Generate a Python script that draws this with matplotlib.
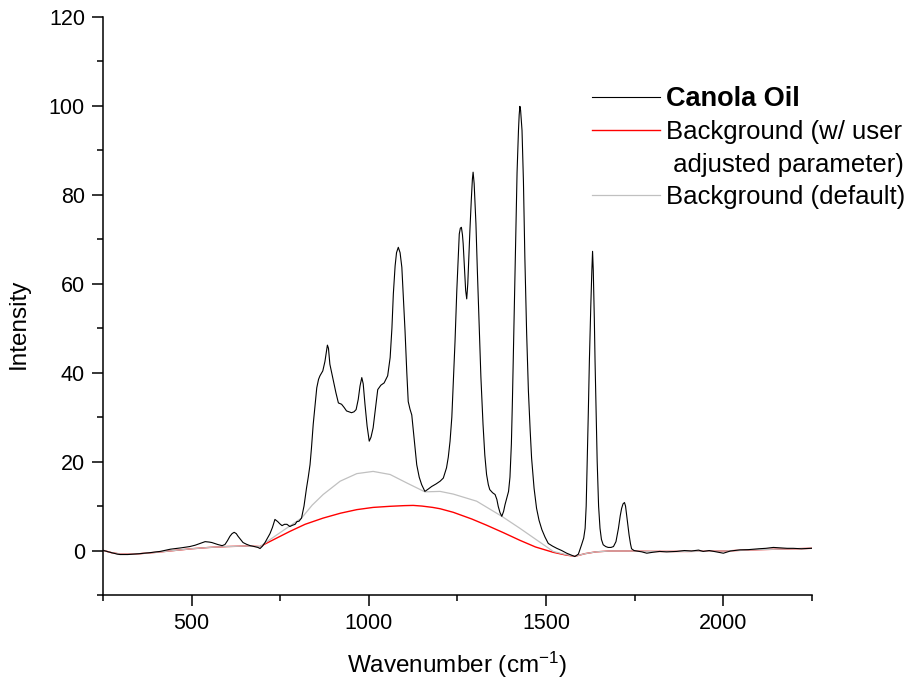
import matplotlib
matplotlib.use("Agg")
import matplotlib.pyplot as plt
from matplotlib.lines import Line2D
from matplotlib.ticker import MultipleLocator

plt.rcParams["font.family"] = ["Liberation Sans", "DejaVu Sans"]
plt.rcParams["mathtext.fontset"] = "custom"
plt.rcParams["mathtext.rm"] = "Liberation Sans"
plt.rcParams["mathtext.it"] = "Liberation Sans:italic"

# Canola oil Raman spectrum
wavenumber = [
    252, 261, 275, 290, 298, 320, 354, 380, 411, 440, 470, 495, 510, 524, 538,
    550, 557, 574, 586, 594, 601, 608, 614, 620, 626, 631, 638, 645, 655, 665,
    677, 687, 693, 700, 707, 714, 721, 728, 735, 743, 749, 755, 762, 769, 777,
    785, 792, 797, 803, 810, 817, 824, 829, 834, 838, 843, 848, 853, 858, 862,
    870, 876, 883, 886, 890, 895, 900, 907, 914, 923, 930, 937, 944, 951, 958,
    964, 970, 975, 980, 984, 989, 995, 1001, 1006, 1012, 1018, 1025, 1034, 1043,
    1053, 1060, 1065, 1069, 1074, 1078, 1083, 1088, 1093, 1098, 1102, 1107, 1111,
    1116, 1121, 1128, 1135, 1142, 1149, 1158, 1167, 1177, 1190, 1201, 1210, 1219,
    1224, 1229, 1234, 1238, 1243, 1248, 1252, 1255, 1258, 1261, 1264, 1266, 1270,
    1273, 1276, 1279, 1282, 1285, 1289, 1292, 1294, 1297, 1300, 1302, 1306, 1311,
    1316, 1322, 1327, 1332, 1337, 1341, 1349, 1356, 1361, 1365, 1370, 1375, 1380,
    1384, 1389, 1394, 1398, 1402, 1405, 1408, 1411, 1415, 1418, 1422, 1424, 1426,
    1428, 1432, 1436, 1440, 1445, 1450, 1455, 1459, 1466, 1473, 1480, 1488, 1497,
    1506, 1518, 1530, 1544, 1558, 1570, 1581, 1591, 1600, 1606, 1610, 1613, 1616,
    1619, 1622, 1626, 1629, 1631, 1633, 1636, 1638, 1641, 1644, 1648, 1652, 1656,
    1661, 1668, 1675, 1683, 1690, 1697, 1704, 1709, 1713, 1717, 1721, 1724, 1727,
    1731, 1734, 1738, 1741, 1748, 1755, 1770, 1784, 1800, 1820, 1840, 1868, 1890,
    1910, 1930, 1943, 1960, 1980, 2000, 2020, 2047, 2070, 2100, 2120, 2141, 2160,
    2180, 2197, 2220, 2249,
]
intensity = [
    0.0, -0.2, -0.5, -0.8, -0.9, -0.9, -0.7, -0.5, -0.2, 0.3, 0.6, 0.9, 1.2, 1.6, 2.0,
    1.9, 1.8, 1.35, 1.1, 1.35, 2.2, 3.2, 3.8, 4.1, 3.8, 3.2, 2.5, 1.8, 1.4, 1.1,
    0.9, 0.7, 0.45, 1.0, 1.8, 2.8, 3.8, 5.2, 7.0, 6.5, 6.0, 5.6, 5.9, 5.9, 5.4,
    5.7, 5.9, 6.5, 6.6, 7.3, 10.0, 14.0, 16.5, 19.3, 23.0, 28.4, 32.5, 36.6, 38.5, 39.3,
    40.4, 42.5, 46.2, 45.5, 41.9, 40.0, 38.1, 35.5, 33.2, 32.9, 32.2, 31.4, 31.2, 31.0, 31.2,
    31.7, 34.0, 37.0, 38.9, 37.5, 32.9, 28.0, 24.6, 25.5, 27.6, 31.5, 36.2, 37.2, 37.7,
    39.3, 43.4, 50.0, 57.7, 64.0, 67.0, 68.2, 67.0, 63.7, 56.0, 49.4, 40.0, 33.5,
    31.8, 30.5, 25.0, 19.3, 16.5, 14.8, 13.3, 13.8, 14.4, 15.0, 15.6, 16.3, 18.6,
    21.0, 24.6, 30.0, 37.4, 47.0, 58.4, 66.0, 71.2, 72.5, 72.7, 71.0, 69.0, 63.0,
    58.5, 56.6, 60.0, 66.0, 72.0, 79.0, 83.5, 85.1, 82.5, 77.0, 73.5, 63.0, 50.9,
    39.0, 28.4, 21.5, 17.1, 14.8, 13.7, 13.0, 12.6, 11.5, 9.9, 8.5, 7.7, 8.8,
    10.3, 11.8, 13.3, 16.5, 24.0, 34.0, 45.5, 58.0, 73.5, 85.0, 94.5, 98.0, 99.9,
    99.0, 94.5, 83.0, 65.9, 49.0, 35.9, 27.0, 20.8, 14.0, 9.5, 6.8, 4.7, 3.0,
    1.6, 1.0, 0.5, 0.0, -0.6, -1.0, -1.35, -0.8, 1.3, 2.8, 5.0, 10.0, 20.1,
    31.0, 42.6, 55.0, 63.0, 67.3, 63.0, 52.0, 42.6, 31.0, 20.1, 10.0, 5.0, 2.5,
    1.3, 0.9, 0.7, 0.7, 0.9, 2.0, 5.0, 7.8, 9.5, 10.5, 10.8, 10.0, 8.0,
    5.5, 3.5, 1.5, 0.4, 0.0, -0.1, -0.3, -0.6, -0.4, -0.2, -0.3, -0.2, 0.0,
    -0.1, 0.1, -0.2, 0.0, -0.3, -0.6, -0.1, 0.15, 0.2, 0.4, 0.5, 0.7, 0.6,
    0.5, 0.5, 0.4, 0.5,
]

# background with user adjusted parameter (red)
bg_user_x = [252, 275, 300, 340, 400, 450, 500, 550, 600, 650, 693, 720, 777, 820,
             871, 920, 966, 1012, 1060, 1100, 1125, 1150, 1180, 1201, 1238, 1290,
             1332, 1380, 1426, 1470, 1520, 1555, 1581, 1610, 1640, 1680, 1720, 1800,
             1900, 2000, 2100, 2200, 2249]
bg_user_y = [0.0, -0.5, -0.8, -0.8, -0.4, 0.0, 0.4, 0.7, 0.9, 1.0, 0.9, 2.0, 4.3, 5.9,
             7.3, 8.4, 9.2, 9.7, 9.95, 10.1, 10.15, 10.0, 9.7, 9.4, 8.6, 7.1,
             5.7, 4.0, 2.3, 0.8, -0.4, -1.0, -1.3, -0.7, -0.3, -0.1, -0.1, -0.2,
             -0.2, -0.1, 0.2, 0.4, 0.5]

# default background (grey)
bg_default_x = [252, 275, 300, 340, 400, 450, 500, 550, 600, 650, 693, 720, 760, 810,
                840, 871, 919, 966, 1012, 1060, 1107, 1158, 1201, 1238, 1304, 1375,
                1426, 1473, 1520, 1555, 1581, 1610, 1640, 1680, 1720, 1800, 1900,
                2000, 2100, 2200, 2249]
bg_default_y = [0.0, -0.5, -0.8, -0.8, -0.4, 0.0, 0.4, 0.7, 0.9, 1.0, 0.9, 2.4, 4.6, 7.3,
                10.2, 12.6, 15.6, 17.3, 17.8, 17.1, 15.2, 13.2, 13.3, 12.7, 11.1, 7.7,
                5.0, 2.4, -0.2, -0.9, -1.3, -0.7, -0.3, -0.1, -0.1, -0.2, -0.2,
                -0.1, 0.2, 0.4, 0.5]

fig = plt.figure(figsize=(9.14, 6.89), dpi=100)
ax = fig.add_axes([103 / 914, 94 / 689, 709 / 914, 578 / 689])

l_user, = ax.plot(bg_user_x, bg_user_y, color="#ff0000", lw=1.0)
l_def, = ax.plot(bg_default_x, bg_default_y, color="#c0c0c0", lw=0.9)
l_oil, = ax.plot(wavenumber, intensity, color="black", lw=0.8)

ax.set_xlim(250, 2250)
ax.set_ylim(-10, 120)
ax.xaxis.set_major_locator(MultipleLocator(500))
ax.xaxis.set_minor_locator(MultipleLocator(250))
ax.yaxis.set_major_locator(MultipleLocator(20))
ax.yaxis.set_minor_locator(MultipleLocator(10))

for side in ("top", "right"):
    ax.spines[side].set_visible(False)
for side in ("left", "bottom"):
    ax.spines[side].set_linewidth(1.1)

ax.tick_params(which="major", direction="out", length=8, width=1.1,
               labelsize=15.5, pad=5)
ax.tick_params(which="minor", direction="out", length=4.3, width=1.1)

ax.set_xlabel("Wavenumber (cm$^{-1}$)", fontsize=17.5, labelpad=11)
ax.set_ylabel("Intensity", fontsize=17.5)
ax.yaxis.set_label_coords(-0.103, 0.47)

blank = Line2D([], [], linestyle="none")
leg = ax.legend([l_oil, l_user, blank, l_def],
                ["Canola Oil", "Background (w/ user", " adjusted parameter)",
                 "Background (default)"],
                loc="upper left", bbox_to_anchor=(592 / 914, 1 - 86 / 689),
                bbox_transform=fig.transFigure, frameon=False, fontsize=18.5,
                borderpad=0, borderaxespad=0, handlelength=2.65,
                handletextpad=0.23, labelspacing=0.33)
leg.get_texts()[0].set_fontweight("bold")
leg.get_texts()[0].set_fontsize(19.5)

fig.savefig("out.png", dpi=100)
